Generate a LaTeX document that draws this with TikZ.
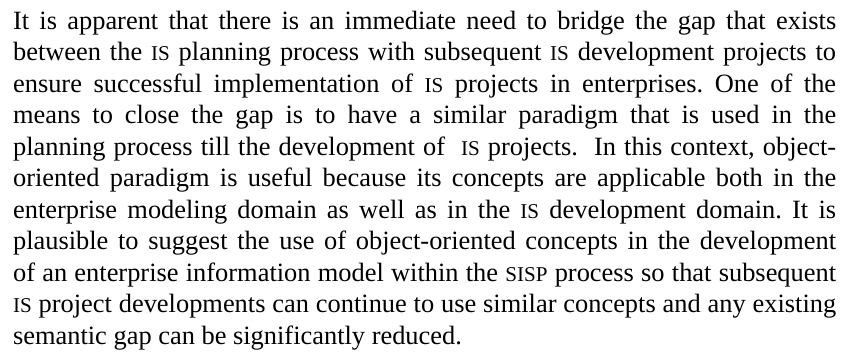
\documentclass[tikz,border=0pt]{standalone}
\usepackage{fontspec}
\setmainfont{Liberation Serif}
% small capitals for acronyms: uppercase set at a reduced size
\newcommand{\acro}[1]{{\fontsize{8.7pt}{13pt}\selectfont #1}}
% one justified line of the paragraph, stretched to the full measure
\newlength{\measure}
\setlength{\measure}{339.7pt}
\newcommand{\jline}[1]{\hbox to \measure{#1}}
\tikzset{
  paragraph/.style={anchor=base west, inner sep=0pt, outer sep=0pt,
    text width=\measure, align=justify,
    font=\fontsize{10.9pt}{13pt}\selectfont\frenchspacing},
}
\begin{document}
\begin{tikzpicture}[x=1pt,y=1pt]
\useasboundingbox (0,0) rectangle (350.4,-146.9);
\node[paragraph] (para) at (5.4,-12.0) {%
\jline{It is apparent that there is an immediate need to bridge the gap that exists}
\jline{between the \acro{IS} planning process with subsequent \acro{IS} development projects to}
\jline{ensure successful implementation of \acro{IS} projects in enterprises. One of the}
\jline{means to close the gap is to have a similar paradigm that is used in the}
\jline{planning process till the development of \ \acro{IS} projects.\ \ In this context, object-}
\jline{oriented paradigm is useful because its concepts are applicable both in the}
\jline{enterprise modeling domain as well as in the \acro{IS} development domain. It is}
\jline{plausible to suggest the use of object-oriented concepts in the development}
\jline{of an enterprise information model within the \acro{SISP} process so that subsequent}
\jline{\acro{IS} project developments can continue to use similar concepts and any existing}
\hbox{semantic gap can be significantly reduced.}};
\end{tikzpicture}
\end{document}
